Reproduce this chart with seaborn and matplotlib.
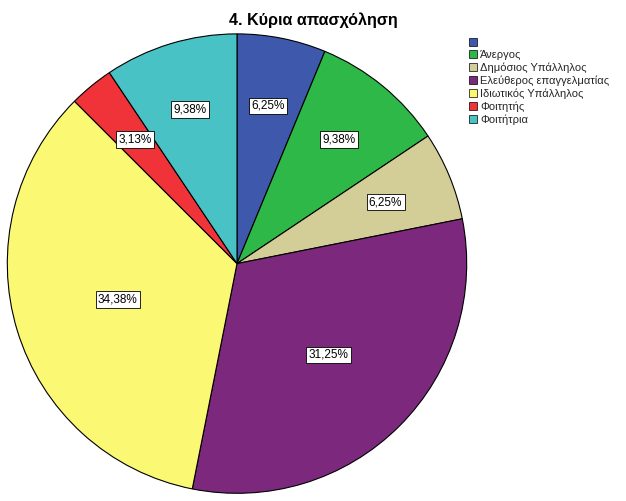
import numpy as np
import matplotlib
matplotlib.use("Agg")
import matplotlib.pyplot as plt
import seaborn as sns

categories = ["", "Άνεργος", "Δημόσιος Υπάλληλος", "Ελεύθερος επαγγελματίας",
              "Ιδιωτικός Υπάλληλος", "Φοιτητής", "Φοιτήτρια"]
percents = [6.25, 9.38, 6.25, 31.25, 34.38, 3.13, 9.38]
colors_hex = ["#3E58AC", "#2EB848", "#D3CE97", "#7C287D", "#FBF873", "#EF3338", "#48C2C5"]
title = "4. Κύρια απασχόληση"

sns.set_theme(style="white")
plt.rcParams["font.family"] = ["Liberation Sans", "DejaVu Sans"]
palette = sns.color_palette(colors_hex)

fig = plt.figure(figsize=(6.26, 5.01), dpi=100)
ax = fig.add_axes([7.3 / 626, 7.7 / 501, 459.4 / 626, 459.4 / 501])
wedges, _ = ax.pie(percents, colors=palette, startangle=90, counterclock=False,
                   radius=1.0, wedgeprops=dict(edgecolor="black", linewidth=0.8))
ax.set_xlim(-1, 1)
ax.set_ylim(-1, 1)
ax.set_aspect("equal")
ax.axis("off")

total = sum(percents)
for w, p in zip(wedges, percents):
    th1, th2 = np.deg2rad(w.theta1), np.deg2rad(w.theta2)
    mid = (th1 + th2) / 2
    frac = p / total
    d = min(0.70, 0.72 - 0.65 * (frac - 0.07))
    ax.text(d * np.cos(mid), d * np.sin(mid), f"{p:.2f}".replace(".", ",") + "%",
            ha="center", va="center", fontsize=8.5, color="black",
            bbox=dict(boxstyle="square,pad=0.2", fc="white", ec="black", lw=0.6))

fig.text(0.5, 1 - 20 / 501, title, ha="center", va="center", fontsize=11.6,
         fontweight="bold", color="black")

leg = fig.legend(wedges, categories, loc="upper left",
                 bbox_to_anchor=(469 / 626, 1 - 37.5 / 501), frameon=False,
                 fontsize=8, handlelength=0.75, handleheight=0.75,
                 handletextpad=0.25, labelspacing=0.22, borderaxespad=0, borderpad=0)
for h in leg.legend_handles:
    h.set_edgecolor("black")
    h.set_linewidth(0.5)

fig.savefig("out.png", dpi=100)
